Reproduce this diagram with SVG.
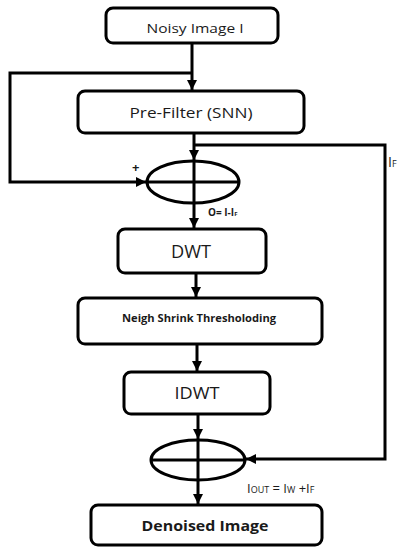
<svg xmlns="http://www.w3.org/2000/svg" width="404" height="549" viewBox="0 0 404 549">
<style>
.box{fill:#fff;stroke:#000;stroke-width:3}
.ell{fill:none;stroke:#000;stroke-width:3}
.ln{fill:none;stroke:#000;stroke-width:3}
.t{font-family:"Open Sans","Liberation Sans",sans-serif;fill:#1a1a1a;text-anchor:middle}
.lbl{font-family:"Open Sans","Liberation Sans",sans-serif;fill:#1a1a1a}
</style>
<defs>
<marker id="ah" markerUnits="userSpaceOnUse" markerWidth="10" markerHeight="10" viewBox="0 0 10 10" refX="10" refY="5" orient="auto">
<path d="M0,0 L10,5 L0,10 z" fill="#000"/>
</marker>
</defs>
<rect width="404" height="549" fill="#fff"/>
<g id="connectors">
<path class="ln" d="M192,43 V90" marker-end="url(#ah)"/>
<path class="ln" d="M192,73 H10 V182 H146" marker-end="url(#ah)"/>
<path class="ln" d="M194,133 V160" marker-end="url(#ah)"/>
<path class="ln" d="M194,145 H385 V459 H246" marker-end="url(#ah)"/>
<path class="ln" d="M194,203 V228" marker-end="url(#ah)"/>
<path class="ln" d="M196,273 V297" marker-end="url(#ah)"/>
<path class="ln" d="M197,344 V371" marker-end="url(#ah)"/>
<path class="ln" d="M198,414 V439" marker-end="url(#ah)"/>
<path class="ln" d="M198,480 V504" marker-end="url(#ah)"/>
</g>
<g id="noisy">
<rect class="box" x="106" y="8" width="172" height="35" rx="7"/>
<text class="t" x="195" y="33" font-size="13" font-weight="500" textLength="97" lengthAdjust="spacingAndGlyphs">Noisy Image I</text>
</g>
<g id="prefilter">
<rect class="box" x="78" y="91" width="226" height="42" rx="7"/>
<text class="t" x="191" y="118" font-size="15" font-weight="500" textLength="123" lengthAdjust="spacingAndGlyphs">Pre-Filter (SNN)</text>
</g>
<g id="sum1">
<ellipse class="ell" cx="193" cy="182" rx="46" ry="21"/>
<path class="ln" d="M147,182 H239 M194,161 V203"/>
</g>
<g id="dwt">
<rect class="box" x="118" y="229" width="148" height="44" rx="7"/>
<text class="t" x="191" y="258" font-size="18" textLength="40" lengthAdjust="spacingAndGlyphs">DWT</text>
</g>
<g id="neigh">
<rect class="box" x="78" y="298" width="244" height="46" rx="7"/>
<text class="t" x="199" y="322" font-size="10" font-weight="bold" textLength="154" lengthAdjust="spacingAndGlyphs">Neigh Shrink Thresholoding</text>
</g>
<g id="idwt">
<rect class="box" x="124" y="372" width="146" height="42" rx="7"/>
<text class="t" x="197" y="399" font-size="16" font-weight="500" textLength="45" lengthAdjust="spacingAndGlyphs">IDWT</text>
</g>
<g id="sum2">
<ellipse class="ell" cx="198" cy="460" rx="47" ry="20"/>
<path class="ln" d="M151,460 H245 M198,440 V480"/>
</g>
<g id="denoised">
<rect class="box" x="91" y="505" width="231" height="40" rx="7"/>
<text class="t" x="205" y="531" font-size="14" font-weight="bold" textLength="127" lengthAdjust="spacingAndGlyphs">Denoised Image</text>
</g>
<g id="labels">
<text class="lbl" x="132" y="172" font-size="13" font-weight="bold">+</text>
<text class="lbl" x="208" y="216" font-size="10" font-weight="bold">O= I-I<tspan font-size="6">F</tspan></text>
<text class="lbl" x="388" y="167" font-size="14">I<tspan font-size="9">F</tspan></text>
<text class="lbl" x="247" y="493" font-size="13">I<tspan font-size="9">OUT</tspan> = I<tspan font-size="9">W</tspan> +I<tspan font-size="9">F</tspan></text>
</g>
</svg>
